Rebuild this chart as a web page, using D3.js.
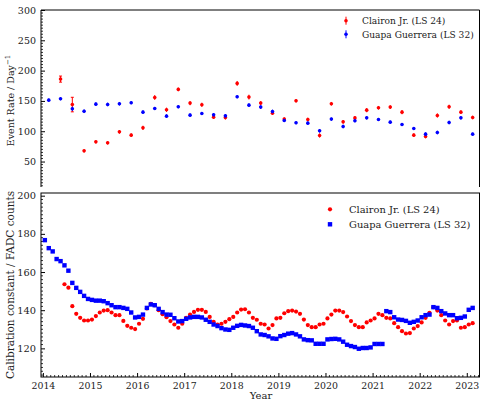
<!DOCTYPE html>
<html>
<head>
<meta charset="utf-8">
<script src="https://cdn.jsdelivr.net/npm/d3@7"></script>
<style>
  html, body { margin: 0; padding: 0; background: #fff; }
  svg { display: block; }
  text { font-family: "DejaVu Serif", serif; fill: #222; }
</style>
</head>
<body>
<svg id="chart" width="482" height="401"></svg>
<script>
// ---- Event rate (quarterly, centred in each quarter) ----
const rateStart = 2014.125;
const rateStep = 0.25;
const rateClairon = [null, 186, 144, 67.6, 82.5, 80.8, 99, 93.5, 105.6, 155.7, 135.4, 169, 146.4, 143.6, 123.2, 122.5,
  178.9, 156.3, 146.4, 129.8, 120, 150.2, 119.4, 93, 145.3, 115.5, 122, 134.8, 138.7, 139.8, 131.5, 93.5, 91.3, 126, 140.3, 131.5, 122.7];
const rateClaironErr = [null, 5, 12, 2.5, 2.5, 2.5, 3, 3, 3.5, 4, 3.5, 3, 3.5, 3.5, 3, 3,
  4, 4, 3.5, 3, 3, 3, 3, 3.5, 3, 3, 3, 3.5, 3, 3, 3.5, 3, 3, 3.5, 3.5, 3, 3];
const rateGuapa = [151.3, 153.5, 137, 133, 144.7, 144.2, 145.3, 147, 131.5, 137.6, 124.9, 140.3, 126.5, 129.3, 127.1, 125.4,
  156.8, 143, 139.8, 132.6, 117.7, 113.9, 113.3, 100.7, 120, 107.8, 117.2, 122.1, 119.4, 115, 111.1, 104.5, 95.2, 97.9, 114.4, 122.1, 95.2];
const rateGuapaErr = [2.5, 2.5, 3.5, 3, 3, 3, 3, 2.5, 3, 2.5, 3, 2.5, 3, 2.5, 3, 3,
  2.5, 3, 3, 3, 2.5, 2.5, 2.5, 3, 2.5, 3, 2.5, 2.5, 2.5, 2.5, 2.5, 2.5, 3, 3, 3, 2.5, 2.5];

// ---- Calibration constant (monthly, centred in each month) ----
const calStart = 2014 + 0.5 / 12;
const calStep = 1 / 12;
const calClaironOffset = 5; // first Clairon month index (June 2014)
const calClairon = [153.6, 151.8, 142.1, 138.1, 136, 134.6, 134.6, 135.1, 136.9, 138.8, 139.8, 140, 138.8, 137.4, 137.4,
  134.4, 131.8, 130.8, 130.1, 132.9, 135.5, 140.9, 143.3, 142.6, 140, 137.9, 136.3, 134.3, 132.5, 130.8, 132.9, 136,
  137.7, 139.1, 140.2, 140.2, 139.1, 136.5, 133.9, 132.5, 132.9, 133.9, 135.3, 136.5, 138.8, 140.3, 140.5, 138.8, 136,
  135, 132.9, 132.5, 130.4, 132.2, 135.7, 136, 138.4, 139.5, 139.8, 139.3, 138.1, 135.1, 132.2, 131.1, 131.1, 132.5,
  132.9, 135.7, 137.7, 139.8, 139.8, 139, 136.7, 134.3, 132.2, 131.1, 131.1, 133.6, 134.6, 135.7, 138.1, 137.4, 136,
  135.7, 133.2, 131.1, 129, 127.8, 128, 130.4, 131.7, 133.6, 136, 138.6, 141.6, 139.8, 137.4, 134.6, 132.5, 134.3,
  134.6, 130.8, 131.1, 132.5, 133.2];
const calGuapa = [176.7, 172.5, 170.8, 166.8, 165.7, 163.5, 160.7, 154.3, 151.7, 149.6, 147.5, 145.9, 145.4, 145, 145,
  144.7, 143.7, 142.6, 141.6, 141.6, 141.2, 140.7, 138.8, 136.2, 136.5, 137.7, 141.2, 143, 142.6, 140.7, 139, 137.7,
  137.6, 135.8, 134.1, 134.3, 135.5, 136.2, 136.5, 136.5, 136.2, 135, 133.9, 132.5, 131.7, 130.6, 129.9, 129.7, 130.8,
  131.8, 132.3, 132, 131.7, 130.8, 129, 127.3, 127, 126.3, 125.2, 125, 126.4, 127, 127.7, 128, 127.3, 126.3, 124.7,
  124.3, 124.2, 122.4, 122.4, 122.4, 124.7, 124.9, 125, 124.7, 123.5, 121.9, 121.2, 120.7, 119.8, 120.2, 120.2, 120.5,
  122.3, 122.3, 122.3, 139.5, 139, 136.3, 135.1, 134.9, 134.4, 133.4, 133.9, 134.6, 136.3, 137.4, 137.7, 141.6, 141.2,
  139.5, 138.3, 137.4, 137.4, 135.8, 136, 136.7, 140.2, 141.2];

const yearTicks = [2014, 2015, 2016, 2017, 2018, 2019, 2020, 2021, 2022, 2023];
const rateTicks = [50, 100, 150, 200, 250, 300];
const calTicks = [120, 140, 160, 180, 200];
const seriesNames = ["Clairon Jr. (LS 24)", "Guapa Guerrera (LS 32)"];
const colors = ["#ff0000", "#0000ff"];

const svg = d3.select("#chart");

const x = d3.scaleLinear().domain([2013.96, 2023.27]).range([41, 479.5]);
const yTop = d3.scaleLinear().domain([8, 300]).range([187, 10]);
const yBot = d3.scaleLinear().domain([105, 201.4]).range([377, 193]);

const rateX = i => rateStart + i * rateStep;
const calX = i => calStart + i * calStep;

// ---------- Upper panel: event rate ----------
const rateG = svg.append("g");
// frame (no bottom spine)
rateG.append("path")
  .attr("d", `M${x.range()[0]},${yTop.range()[0]}V${yTop.range()[1]}H${x.range()[1]}V${yTop.range()[0]}`)
  .attr("fill", "none").attr("stroke", "#000").attr("stroke-width", 1);

const yTopAxis = d3.axisLeft(yTop).tickValues(rateTicks).tickSize(-4).tickPadding(5);
const gTopAxis = rateG.append("g").attr("transform", `translate(${x.range()[0]},0)`).call(yTopAxis);
gTopAxis.select(".domain").remove();
gTopAxis.selectAll("text").attr("font-size", 9.5).style("font-family", "DejaVu Serif, serif").attr("fill", "#333");
// minor ticks on the left spine
rateG.append("g").selectAll("line")
  .data(d3.range(10, 300, 5).filter(v => v % 50 !== 0))
  .join("line")
  .attr("x1", x.range()[0]).attr("x2", x.range()[0] + 2)
  .attr("y1", d => yTop(d)).attr("y2", d => yTop(d))
  .attr("stroke", "#000").attr("stroke-width", 0.8);

rateG.append("text")
  .attr("transform", `translate(14,${(yTop(8) + yTop(300)) / 2 + 2}) rotate(-90)`)
  .attr("text-anchor", "middle").attr("font-size", 9.5)
  .html('Event Rate / Day<tspan dy="-4" font-size="7">−1</tspan>');

function drawErrorbars(g, vals, errs, color) {
  const pts = vals.map((v, i) => ({ x: rateX(i), v, e: errs[i] })).filter(d => d.v !== null);
  const grp = g.append("g");
  grp.selectAll("line.err").data(pts).join("line").attr("class", "err")
    .attr("x1", d => x(d.x)).attr("x2", d => x(d.x))
    .attr("y1", d => yTop(d.v - d.e)).attr("y2", d => yTop(d.v + d.e))
    .attr("stroke", color).attr("stroke-width", 1);
  grp.selectAll("path.cap").data(pts.filter(d => d.e > 4)).join("path").attr("class", "cap")
    .attr("d", d => `M${x(d.x) - 1.5},${yTop(d.v - d.e)}h3M${x(d.x) - 1.5},${yTop(d.v + d.e)}h3`)
    .attr("stroke", color).attr("stroke-width", 1);
  grp.selectAll("circle").data(pts).join("circle")
    .attr("cx", d => x(d.x)).attr("cy", d => yTop(d.v)).attr("r", 1.8)
    .attr("fill", color);
}
drawErrorbars(rateG, rateClairon, rateClaironErr, colors[0]);
drawErrorbars(rateG, rateGuapa, rateGuapaErr, colors[1]);

// legend
const lgTop = rateG.append("g");
seriesNames.forEach((name, k) => {
  const yy = 20.7 + k * 13.6;
  lgTop.append("line").attr("x1", 346).attr("x2", 346).attr("y1", yy - 4).attr("y2", yy + 4)
    .attr("stroke", colors[k]).attr("stroke-width", 1);
  lgTop.append("circle").attr("cx", 346).attr("cy", yy).attr("r", 1.8).attr("fill", colors[k]);
  lgTop.append("text").attr("x", 362).attr("y", yy + 3.3).attr("font-size", 9.1).text(name);
});

// ---------- Lower panel: calibration constant ----------
const calG = svg.append("g");
calG.append("rect")
  .attr("x", x.range()[0]).attr("y", yBot.range()[1])
  .attr("width", x.range()[1] - x.range()[0]).attr("height", yBot.range()[0] - yBot.range()[1])
  .attr("fill", "none").attr("stroke", "#000").attr("stroke-width", 1);

const yBotAxis = d3.axisLeft(yBot).tickValues(calTicks).tickSize(-4).tickPadding(5);
const gBotY = calG.append("g").attr("transform", `translate(${x.range()[0]},0)`).call(yBotAxis);
gBotY.select(".domain").remove();
gBotY.selectAll("text").attr("font-size", 9.8).style("font-family", "DejaVu Serif, serif").attr("fill", "#333");
calG.append("g").selectAll("line")
  .data(d3.range(106, 201, 2).filter(v => v % 20 !== 0))
  .join("line")
  .attr("x1", x.range()[0]).attr("x2", x.range()[0] + 2)
  .attr("y1", d => yBot(d)).attr("y2", d => yBot(d))
  .attr("stroke", "#000").attr("stroke-width", 0.8);

const xAxis = d3.axisBottom(x).tickValues(yearTicks).tickFormat(d3.format("d")).tickSize(-4).tickPadding(5);
const gX = calG.append("g").attr("transform", `translate(0,${yBot.range()[0]})`).call(xAxis);
gX.select(".domain").remove();
gX.selectAll("text").attr("font-size", 9.4).style("font-family", "DejaVu Serif, serif").attr("fill", "#333");
calG.append("g").selectAll("line")
  .data(d3.range(0, 112).map(m => 2014 + m / 12).filter(v => x(v) < x.range()[1] && Math.abs(v - Math.round(v)) > 1e-6))
  .join("line")
  .attr("x1", d => x(d)).attr("x2", d => x(d))
  .attr("y1", yBot.range()[0]).attr("y2", yBot.range()[0] - 2)
  .attr("stroke", "#000").attr("stroke-width", 0.8);

calG.append("text").attr("x", 261).attr("y", 399).attr("text-anchor", "middle").attr("font-size", 10).text("Year");
calG.append("text")
  .attr("transform", `translate(14,${(yBot.range()[0] + yBot.range()[1]) / 2}) rotate(-90)`)
  .attr("text-anchor", "middle").attr("font-size", 10.5)
  .text("Calibration constant / FADC counts");

calG.append("g").selectAll("circle")
  .data(calClairon.map((v, i) => ({ t: calX(i + calClaironOffset), v })))
  .join("circle")
  .attr("cx", d => x(d.t)).attr("cy", d => yBot(d.v)).attr("r", 2.1)
  .attr("fill", colors[0]);
calG.append("g").selectAll("rect")
  .data(calGuapa.map((v, i) => ({ t: calX(i), v })))
  .join("rect")
  .attr("x", d => x(d.t) - 2.2).attr("y", d => yBot(d.v) - 2.2)
  .attr("width", 4.4).attr("height", 4.4)
  .attr("fill", colors[1]);

const lgBot = calG.append("g");
seriesNames.forEach((name, k) => {
  const yy = 209.3 + k * 15;
  if (k === 0) lgBot.append("circle").attr("cx", 330).attr("cy", yy).attr("r", 2.1).attr("fill", colors[k]);
  else lgBot.append("rect").attr("x", 327.8).attr("y", yy - 2.2).attr("width", 4.4).attr("height", 4.4).attr("fill", colors[k]);
  lgBot.append("text").attr("x", 349).attr("y", yy + 3.6).attr("font-size", 9.9).text(name);
});
</script>
</body>
</html>
